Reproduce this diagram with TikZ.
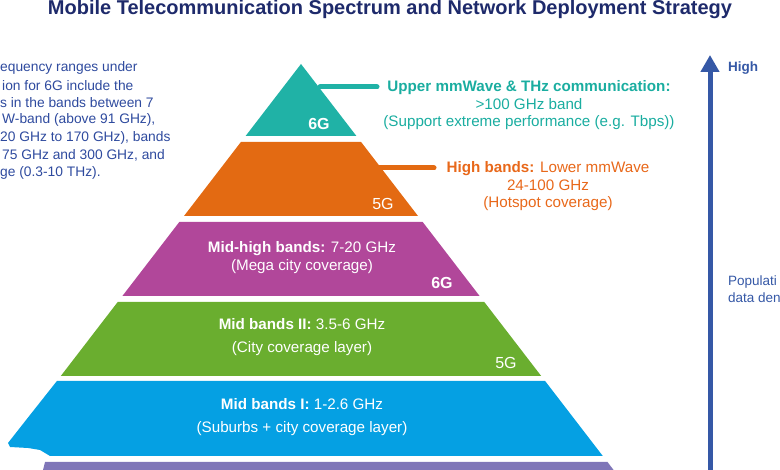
\documentclass[tikz,border=0pt]{standalone}
\usepackage{fontspec}
\setmainfont{Liberation Sans}
\usetikzlibrary{arrows.meta}
\definecolor{titleblue}{HTML}{1E2A6B}
\definecolor{textblue}{HTML}{2E4A9E}
\definecolor{arrblue}{HTML}{3558A6}
\definecolor{tealc}{HTML}{20B2A6}
\definecolor{tealt}{HTML}{1AADA0}
\definecolor{orangec}{HTML}{E36A12}
\definecolor{oranget}{HTML}{E8681A}
\definecolor{magc}{HTML}{B1479A}
\definecolor{greenc}{HTML}{6AAE2F}
\definecolor{bluec}{HTML}{05A0E3}
\definecolor{botc}{HTML}{7F76B8}
\tikzset{
  lbl/.style={inner sep=0pt, align=center, text=white, font=\fontsize{15.2}{23}\selectfont},
  gtag/.style={inner sep=0pt, text=white, font=\fontsize{16}{18}\selectfont},
  side/.style={inner sep=0pt, align=center, font=\fontsize{15.2}{17.5}\selectfont},
  lefttxt/.style={inner sep=0pt, anchor=west, text=textblue, font=\fontsize{13.8}{16}\selectfont},
  conn/.style={line width=5pt, line cap=round},
}
\begin{document}
\begin{tikzpicture}[x=1pt,y=-1pt]
\useasboundingbox (0,0) rectangle (780,470);
% title
\node[inner sep=0pt, anchor=base, text=titleblue, font=\fontsize{20}{23}\selectfont\bfseries] (title) at (390,15) {Mobile Telecommunication Spectrum and Network Deployment Strategy};
% left text (cut off)
\node[lefttxt] (l1) at (0,68) {equency ranges under};
\node[lefttxt] (l2) at (2,86) {ion for 6G include the};
\node[lefttxt] (l3) at (0,103) {s in the bands between 7};
\node[lefttxt] (l4) at (2,120) {W-band (above 91 GHz),};
\node[lefttxt] (l5) at (0,138) {20 GHz to 170 GHz), bands};
\node[lefttxt] (l6) at (2,155) {75 GHz and 300 GHz, and};
\node[lefttxt] (l7) at (0,173) {ge (0.3-10 THz).};
% pyramid bands
\fill[tealc] (301,64) -- (356.4,136) -- (245.6,136) -- cycle;
\fill[orangec] (240.9,142) -- (361.1,142) -- (418,216) -- (184,216) -- cycle;
\fill[magc] (179.3,222) -- (422.7,222) -- (479.6,296) -- (122.4,296) -- cycle;
\fill[greenc] (117.7,302) -- (484.3,302) -- (541.2,376) -- (60.8,376) -- cycle;
\fill[bluec] (56.9,381) -- (545.1,381) -- (602.8,456) -- (50,456) -- (40,450) -- (28,448) -- (10,447) -- (8,443) -- (30,415) -- cycle;
\fill[botc] (45,462) -- (607.5,462) -- (613.6,470) -- (43,470) -- cycle;
% band labels
\node[gtag, font=\fontsize{16}{18}\selectfont\bfseries] (g6a) at (319,124) {6G};
\node[gtag] (g5a) at (383,204) {5G};
\node[lbl, font=\fontsize{15.2}{18}\selectfont] (mh) at (302,258) {\textbf{Mid-high bands:} 7-20 GHz\\(Mega city coverage)};
\node[gtag, font=\fontsize{16}{18}\selectfont\bfseries] (g6b) at (442,283) {6G};
\node[lbl] (m2) at (302,337.5) {\textbf{Mid bands II:} 3.5-6 GHz\\(City coverage layer)};
\node[gtag] (g5b) at (506,363) {5G};
\node[lbl] (m1) at (302,417.5) {\textbf{Mid bands I:} 1-2.6 GHz\\(Suburbs + city coverage layer)};
% side labels and connectors
\coordinate (ts) at (320,87);
\coordinate (te) at (377,87);
\draw[conn, tealc] (ts) -- (te);
\node[side, text=tealt] (up) at (529,105.5) {\textbf{Upper mmWave \& THz communication:}\\>100 GHz band\\(Support extreme performance (e.g. Tbps))};
\coordinate (os) at (378,168);
\coordinate (oe) at (434,168);
\draw[conn, orangec] (os) -- (oe);
\node[side, text=oranget] (hb) at (548,186.5) {\textbf{High bands:} Lower mmWave\\24-100 GHz\\(Hotspot coverage)};
% arrow
\coordinate (ab) at (710,472);
\coordinate (at) at (710,55);
\draw[line width=5pt, arrblue, -{Triangle[width=18pt,length=17pt]}] (ab) -- (at);
\node[inner sep=0pt, anchor=west, text=arrblue, font=\fontsize{13.5}{16}\selectfont\bfseries] (high) at (728,68) {High};
\node[inner sep=0pt, anchor=west, text=arrblue, font=\fontsize{13.5}{16}\selectfont] (pop1) at (728,282) {Populati};
\node[inner sep=0pt, anchor=west, text=arrblue, font=\fontsize{13.5}{16}\selectfont] (pop2) at (728,298) {data den};
\end{tikzpicture}
\end{document}
